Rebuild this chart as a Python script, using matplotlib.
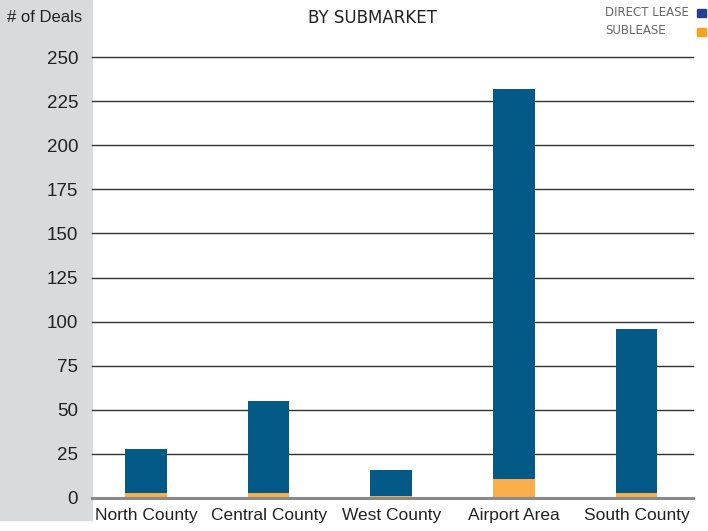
import numpy as np
import matplotlib.pyplot as plt
from matplotlib.patches import Rectangle

# Data
submarkets = ['North County', 'Central County', 'West County', 'Airport Area', 'South County']
sublease = [3, 3, 1, 11, 3]
direct_lease = [25, 52, 15, 221, 93]
yticks = [0, 25, 50, 75, 100, 125, 150, 175, 200, 225, 250]

direct_color = '#035a87'
sub_color = '#f9ae4b'
narrow = ['Liberation Sans', 'DejaVu Sans']

fig = plt.figure(figsize=(7.08, 5.31), dpi=100)

# grey band behind the y axis
fig.patches.append(Rectangle((0, 1 - 520 / 531), 92 / 708, 520 / 531,
                             transform=fig.transFigure, color='#d9dadc', zorder=-5))

ax = fig.add_axes([92 / 708, 33 / 531, (693 - 92) / 708, (498 - 57) / 531])
ax.set_facecolor('none')

x = np.arange(len(submarkets))
ax.bar(x, sublease, width=0.34, color=sub_color, zorder=3)
ax.bar(x, direct_lease, width=0.34, bottom=sublease, color=direct_color, zorder=3)

ax.set_xlim(-0.44, 4.46)
ax.set_ylim(0, 250)
for v in yticks[1:]:
    ax.axhline(v, color='#333333', lw=1.0, zorder=1, clip_on=False)
ax.axhline(0, color='#8a8a8a', lw=2.2, zorder=4, clip_on=False)

for s in ax.spines.values():
    s.set_visible(False)

ax.set_yticks(yticks)
ax.set_yticklabels([str(v) for v in yticks], family=narrow, fontsize=13.5, color='#222222')
ax.tick_params(axis='y', length=0, pad=10)
ax.set_xticks(x)
ax.set_xticklabels(submarkets, family=narrow, fontsize=12.5, color='#222222')
ax.tick_params(axis='x', length=0, pad=7)

fig.text(82 / 708, 1 - 18 / 531, '# of Deals', ha='right', va='center',
         family=narrow, fontsize=12, color='#222222')
fig.text(372 / 708, 1 - 18 / 531, 'BY SUBMARKET', ha='center', va='center',
         fontsize=12, color='#222222')

# legend
fig.text(689 / 708, 1 - 13 / 531, 'DIRECT LEASE', ha='right', va='center',
         fontsize=8.5, color='#666666')
fig.text(605 / 708, 1 - 31 / 531, 'SUBLEASE', ha='left', va='center',
         fontsize=8.5, color='#666666')
fig.patches.append(Rectangle((697 / 708, 1 - 17 / 531), 9 / 708, 8 / 531,
                             transform=fig.transFigure, color='#253f94'))
fig.patches.append(Rectangle((697 / 708, 1 - 36 / 531), 9 / 708, 8 / 531,
                             transform=fig.transFigure, color='#f7a21b'))

fig.savefig('out.png', dpi=100)
